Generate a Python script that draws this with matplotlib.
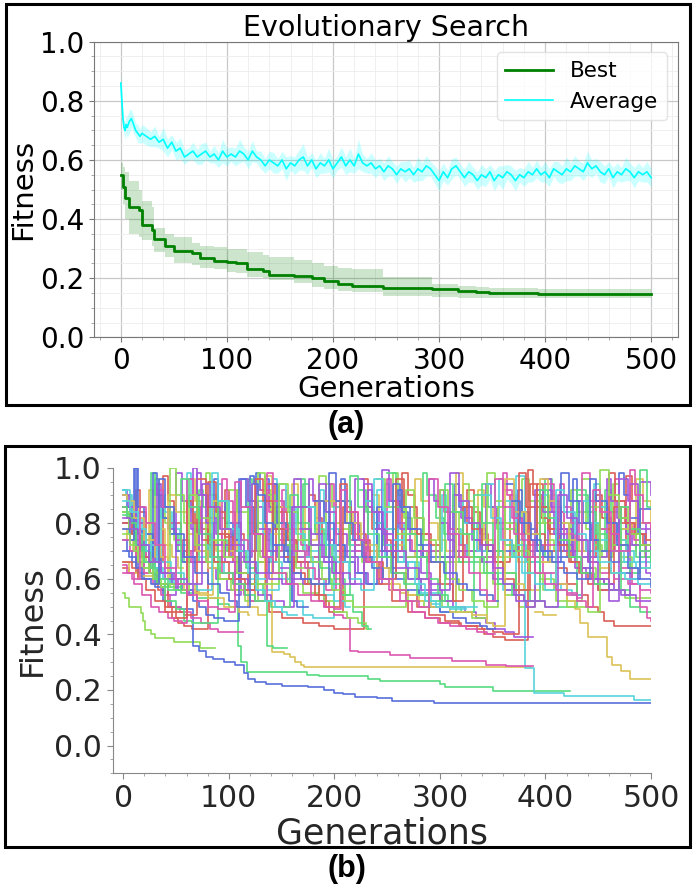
import colorsys
import numpy as np
import matplotlib
matplotlib.use("Agg")
import matplotlib.pyplot as plt
from matplotlib.patches import Rectangle
from matplotlib.ticker import MultipleLocator

X = None  # lineage break

# ---------------- panel (a) data ----------------
best_gens = [0, 2, 4, 8, 17, 20, 29, 31, 42, 50, 67, 75, 88, 100, 109, 119, 134, 140,
             163, 180, 192, 205, 218, 247, 293, 318, 335, 347, 393, 500]
best_vals = [0.549, 0.51, 0.47, 0.442, 0.43, 0.38, 0.363, 0.331, 0.31, 0.293, 0.285, 0.267,
             0.258, 0.255, 0.25, 0.23, 0.225, 0.21, 0.208, 0.20, 0.19, 0.18, 0.175, 0.168,
             0.163, 0.157, 0.153, 0.150, 0.148, 0.148]
best_hi = [0.59, 0.575, 0.56, 0.53, 0.50, 0.46, 0.44, 0.37, 0.35, 0.34, 0.32, 0.31, 0.305,
           0.30, 0.298, 0.29, 0.28, 0.27, 0.26, 0.25, 0.24, 0.235, 0.23, 0.205, 0.18, 0.175,
           0.17, 0.168, 0.162, 0.16]
best_lo = [0.50, 0.45, 0.40, 0.35, 0.34, 0.33, 0.31, 0.29, 0.27, 0.25, 0.245, 0.235, 0.23,
           0.222, 0.218, 0.205, 0.20, 0.194, 0.185, 0.17, 0.162, 0.158, 0.152, 0.14, 0.135,
           0.133, 0.132, 0.132, 0.132, 0.132]

avg_head_gens = [0, 1, 2, 3, 4, 5, 6, 8, 10, 12, 14, 16, 18, 20]
avg_head_vals = [0.86, 0.80, 0.74, 0.71, 0.70, 0.72, 0.71, 0.73, 0.74, 0.72, 0.70, 0.69, 0.68, 0.69]
avg_head_spread = [0.035, 0.04, 0.03, 0.025, 0.03, 0.03, 0.035, 0.04, 0.03, 0.03, 0.025, 0.03, 0.025, 0.03]
avg_tail_vals = [
    0.68, 0.67, 0.68, 0.66, 0.67, 0.64, 0.66, 0.63, 0.64, 0.61,
    0.62, 0.63, 0.61, 0.62, 0.63, 0.61, 0.62, 0.60, 0.63, 0.61,
    0.62, 0.61, 0.63, 0.62, 0.60, 0.63, 0.61, 0.60, 0.58, 0.60,
    0.59, 0.58, 0.60, 0.57, 0.59, 0.58, 0.60, 0.61, 0.58, 0.60,
    0.57, 0.59, 0.58, 0.60, 0.57, 0.59, 0.61, 0.58, 0.60, 0.58,
    0.62, 0.59, 0.58, 0.59, 0.57, 0.58, 0.56, 0.58, 0.57, 0.55,
    0.57, 0.56, 0.57, 0.55, 0.57, 0.56, 0.58, 0.57, 0.55, 0.53,
    0.56, 0.54, 0.57, 0.58, 0.56, 0.54, 0.56, 0.55, 0.53, 0.55,
    0.54, 0.56, 0.53, 0.55, 0.54, 0.56, 0.55, 0.53, 0.55, 0.54,
    0.56, 0.55, 0.57, 0.55, 0.56, 0.54, 0.57, 0.56, 0.55, 0.57,
    0.56, 0.58, 0.57, 0.56, 0.59, 0.57, 0.58, 0.56, 0.55, 0.57,
    0.54, 0.56, 0.55, 0.57, 0.56, 0.54, 0.56, 0.55, 0.56, 0.54]
avg_tail_spread = [
    0.03, 0.025, 0.035, 0.02, 0.04, 0.03, 0.025, 0.03, 0.035, 0.025,
    0.02, 0.03, 0.025, 0.035, 0.03, 0.02, 0.03, 0.025, 0.04, 0.03,
    0.025, 0.03, 0.04, 0.025, 0.03, 0.035, 0.02, 0.03, 0.025, 0.03,
    0.035, 0.025, 0.03, 0.04, 0.025, 0.03, 0.035, 0.045, 0.03, 0.025,
    0.03, 0.035, 0.025, 0.04, 0.03, 0.025, 0.035, 0.03, 0.04, 0.025,
    0.05, 0.03, 0.025, 0.035, 0.03, 0.025, 0.03, 0.035, 0.025, 0.03,
    0.025, 0.035, 0.03, 0.025, 0.04, 0.03, 0.035, 0.025, 0.03, 0.035,
    0.03, 0.025, 0.035, 0.03, 0.025, 0.03, 0.035, 0.025, 0.03, 0.035,
    0.03, 0.025, 0.035, 0.03, 0.04, 0.025, 0.03, 0.035, 0.025, 0.03,
    0.035, 0.025, 0.03, 0.025, 0.035, 0.03, 0.025, 0.035, 0.03, 0.04,
    0.03, 0.035, 0.025, 0.03, 0.04, 0.03, 0.025, 0.035, 0.03, 0.025,
    0.035, 0.03, 0.025, 0.04, 0.03, 0.035, 0.03, 0.025, 0.035, 0.03]

# ---------------- panel (b) data: population slots (generation, fitness) ----------------
slot_red_1 = [(0,0.86),(6,0.80),(12,0.74),(18,0.68),(25,0.62),(33,0.56),(40,0.50),(46,0.46),(52,0.44),(58,0.43),(65,0.42),(80,0.95),(88,0.84),(96,0.75),(104,0.66),(112,0.58),(125,0.52),(138,0.48),(150,0.46),(170,0.44),(185,0.43),(200,0.42),(220,0.42),(228,0.86),(236,0.78),(245,0.70),(255,0.62),(268,0.54),(278,0.50),(290,0.47),(305,0.45),(318,0.43),(335,0.42),(342,0.40),(350,0.39),(362,0.38),(383,0.99),(388,0.90),(396,0.82),(404,0.76),(414,0.70),(424,0.66),(434,0.62),(444,0.60),(455,0.58),(465,0.86),(472,0.80),(482,0.76),(492,0.72),(500,0.70)]
slot_red_2 = [(0,0.80),(8,0.76),(16,0.70),(24,0.64),(32,0.58),(42,0.50),(50,0.48),(58,0.47),(70,0.96),(78,0.86),(90,0.76),(100,0.68),(110,0.62),(118,0.58),(135,0.94),(144,0.84),(155,0.74),(165,0.66),(175,0.58),(185,0.52),(195,0.48),(208,0.86),(216,0.76),(230,0.66),(242,0.58),(255,0.52),(270,0.48),(286,0.46),(300,0.44),(320,0.43),(340,0.42),(350,0.41),(360,0.40),(375,0.98),(382,0.86),(392,0.76),(400,0.70),(410,0.64),(420,0.58),(430,0.54),(440,0.50),(450,0.48),(455,0.45),(465,0.43),(500,0.43)]
slot_red_3 = [(0,0.66),(8,0.64),(14,0.60),(22,0.56),(30,0.52),(40,0.48),(50,0.46),(60,0.88),(66,0.80),(75,0.74),(86,0.66),(100,0.60),(115,0.56),(125,0.96),(132,0.88),(142,0.78),(152,0.68),(162,0.62),(172,0.58),(182,0.54),(192,0.50),(205,0.94),(212,0.84),(222,0.74),(234,0.66),(246,0.60),(258,0.96),(266,0.86),(278,0.76),(290,0.66),(300,0.58),(312,0.52),(322,0.86),(330,0.78),(340,0.72),(350,0.66),(360,0.60),(370,0.56),(385,0.94),(392,0.86),(402,0.78),(412,0.72),(422,0.66),(432,0.62),(440,0.58),(450,0.56),(460,0.98),(466,0.88),(475,0.80),(485,0.76),(495,0.74),(500,0.74)]
slot_red_4 = [(0,0.64),(5,0.62),(12,0.92),(16,0.84),(22,0.76),(28,0.70),(34,0.66),(38,0.97),(42,0.88),(48,0.80),(55,0.74),(62,0.70),(68,0.84),(74,0.78),(80,0.72),(90,0.68),(96,0.92),(100,0.84),(106,0.76),(114,0.70),(120,0.66),(145,0.86),(150,0.80),(156,0.74),(164,0.70),(176,0.90),(182,0.82),(188,0.76),(196,0.72),(204,X),(226,0.96),(232,0.88),(238,0.80),(246,0.74),(254,0.70),(264,0.98),(270,0.90),(276,0.82),(284,0.76),(292,0.72),(300,0.68),(326,0.92),(332,0.84),(338,0.76),(346,0.70),(352,0.66),(366,0.90),(372,0.82),(378,0.76),(392,0.94),(398,0.86),(404,0.78),(412,0.72),(420,0.68),(448,0.90),(454,0.82),(462,0.76),(470,0.72),(476,0.97),(482,0.88),(490,0.80),(500,0.76)]

slot_gold_1 = [(0,0.90),(7,0.86),(15,0.80),(25,0.72),(35,0.64),(45,0.60),(58,0.56),(72,0.54),(85,0.88),(92,0.78),(100,0.70),(112,0.62),(125,0.52),(134,0.97),(141,0.335),(152,0.33),(158,0.32),(163,0.30),(168,0.29),(171,0.282),(385,0.282),(386,X),(390,0.48),(398,0.47),(410,0.47)]
slot_gold_2 = [(0,0.66),(5,0.62),(14,0.61),(30,0.60),(42,0.90),(50,0.84),(60,0.76),(70,0.70),(80,0.64),(92,0.60),(105,0.56),(118,0.50),(128,0.47),(135,0.47),(136,X),(150,0.86),(160,0.80),(172,0.74),(184,0.88),(210,0.84),(218,0.76),(228,0.70),(240,0.64),(252,0.58),(262,0.55),(270,0.54),(290,0.54),(300,0.52),(315,0.98),(322,0.88),(332,0.80),(342,0.74),(352,0.68),(362,0.62),(372,0.58),(380,0.56),(395,0.96),(402,0.88),(412,0.80),(422,0.74),(432,0.70),(442,0.66),(452,0.64),(462,0.62),(472,0.78),(482,0.80),(500,0.79)]
slot_gold_3 = [(0,0.90),(4,0.88),(10,0.82),(20,0.74),(30,0.68),(42,0.62),(55,0.58),(68,0.55),(80,0.53),(95,0.50),(110,0.48),(118,0.47),(119,X),(200,0.88),(212,0.80),(225,0.72),(240,0.64),(255,0.56),(268,0.54),(280,0.52),(292,0.50),(310,0.48),(330,0.47),(345,0.44),(350,0.43),(362,0.96),(370,0.84),(382,0.76),(395,0.66),(410,0.58),(420,0.52),(428,0.49),(433,0.44),(440,0.39),(458,0.32),(463,0.29),(472,0.27),(480,0.24),(500,0.24)]
slot_gold_4 = [(0,0.78),(4,0.74),(9,0.70),(14,0.66),(20,0.62),(24,0.92),(28,0.86),(34,0.78),(40,0.72),(46,0.68),(52,0.64),(57,X),(64,0.96),(68,0.88),(74,0.80),(82,0.74),(88,0.70),(108,0.92),(112,0.86),(118,0.80),(126,0.76),(160,0.94),(166,0.86),(172,0.78),(178,0.72),(185,X),(236,0.90),(242,0.84),(250,0.78),(258,0.72),(266,0.68),(276,0.96),(282,0.88),(290,0.80),(298,0.74),(306,0.70),(336,0.92),(342,0.86),(350,0.80),(358,0.74),(366,0.70),(374,0.66),(404,0.90),(410,0.84),(418,0.78),(426,0.74),(436,0.70),(446,0.92),(452,0.86),(460,0.80),(468,0.74),(476,0.70),(486,0.96),(492,0.88),(500,0.80)]

slot_lime_1 = [(0,0.55),(2,0.53),(5,0.50),(17,0.477),(19,0.45),(21,0.417),(26,0.40),(30,0.388),(48,0.371),(73,0.352),(87,X),(100,0.92),(108,0.84),(118,0.76),(130,0.68),(142,0.62),(155,0.58),(170,0.55),(185,0.97),(192,0.88),(202,0.80),(214,0.72),(226,0.66),(240,0.60),(255,0.56),(270,0.52),(285,0.50),(300,0.92),(308,0.84),(318,0.76),(328,0.68),(338,0.62),(350,0.58),(362,0.54),(375,0.50),(390,0.88),(398,0.80),(410,0.74),(422,0.68),(435,0.64),(448,0.60),(460,0.56),(475,0.53),(500,0.53)]
slot_lime_2 = [(0,0.84),(5,0.78),(10,0.70),(18,0.64),(28,0.60),(36,0.57),(44,1.00),(50,0.90),(58,0.80),(68,0.72),(78,0.66),(90,0.60),(102,0.56),(115,0.52),(128,0.98),(134,0.90),(144,0.80),(154,0.72),(164,0.64),(176,0.58),(190,0.52),(200,0.48),(212,0.46),(222,0.44),(230,0.42),(232,X),(240,0.96),(248,0.86),(258,0.76),(268,0.68),(278,0.60),(290,0.54),(302,0.50),(315,0.48),(330,0.46),(345,0.98),(352,0.88),(362,0.80),(372,0.72),(382,0.66),(395,0.60),(408,0.56),(420,0.52),(435,0.96),(442,0.86),(452,0.78),(462,0.72),(472,0.68),(482,0.64),(500,0.64)]
slot_lime_3 = [(0,0.76),(6,0.72),(14,0.66),(24,0.62),(34,0.58),(48,0.56),(62,0.90),(70,0.82),(82,0.74),(95,0.68),(108,0.62),(120,0.58),(148,0.94),(156,0.84),(166,0.74),(178,0.66),(188,0.60),(198,0.56),(210,0.52),(218,0.50),(268,0.92),(275,0.82),(285,0.74),(296,0.66),(306,0.60),(318,0.56),(330,0.52),(342,0.50),(355,0.86),(362,0.78),(372,0.70),(384,0.62),(398,0.56),(410,0.52),(420,0.50),(440,0.48),(452,0.99),(460,0.90),(470,0.82),(480,0.76),(490,0.72),(500,0.72)]
slot_lime_4 = [(0,0.86),(4,0.82),(10,0.76),(16,0.70),(22,0.66),(30,0.96),(34,0.88),(40,0.80),(48,0.74),(56,0.70),(62,0.66),(78,0.98),(82,0.90),(88,0.82),(96,0.76),(104,0.70),(110,0.66),(134,0.92),(140,0.84),(146,0.78),(154,0.72),(160,0.68),(192,0.94),(198,0.86),(206,0.78),(214,0.72),(220,0.68),(256,0.98),(260,0.90),(266,0.82),(274,0.76),(282,0.70),(288,0.66),(322,0.94),(328,0.86),(336,0.78),(344,0.72),(350,0.68),(378,0.96),(384,0.88),(392,0.80),(400,0.74),(408,0.70),(424,0.92),(430,0.84),(438,0.78),(446,0.72),(454,0.68),(464,0.94),(470,0.86),(478,0.78),(486,0.72),(494,0.68),(500,0.66)]

slot_green_1 = [(0,0.84),(5,0.80),(12,0.74),(20,0.66),(28,0.60),(40,0.57),(55,0.55),(70,0.53),(90,0.51),(100,0.50),(109,0.36),(112,0.30),(117,0.264),(174,0.255),(185,0.25),(232,0.24),(243,0.232),(300,0.22),(305,0.21),(350,0.195),(422,0.195),(423,X),(432,0.90),(440,0.80),(450,0.70),(460,0.62),(470,0.56),(480,0.50),(490,0.48),(500,0.48)]
slot_green_2 = [(0,0.86),(4,0.82),(10,0.76),(18,0.70),(25,0.64),(32,0.58),(40,0.52),(50,0.49),(58,0.45),(65,0.44),(80,0.44),(90,0.88),(98,0.78),(106,0.70),(116,0.64),(126,0.58),(132,0.54),(136,0.36),(142,0.35),(150,0.35),(155,X),(165,0.96),(172,0.86),(182,0.76),(192,0.68),(200,0.60),(210,0.54),(218,0.48),(226,0.43),(232,0.42),(235,X),(250,0.98),(258,0.86),(268,0.76),(278,0.68),(288,0.60),(298,0.54),(308,0.50),(320,0.48),(332,0.90),(340,0.80),(350,0.70),(360,0.62),(372,0.56),(385,0.52),(400,0.50),(420,0.50),(430,0.92),(438,0.84),(448,0.76),(458,0.70),(470,0.66),(480,0.62),(490,0.99),(496,0.86),(500,0.86)]
slot_green_3 = [(0,0.83),(6,0.80),(12,0.72),(20,0.66),(30,0.60),(42,0.56),(55,0.96),(62,0.86),(72,0.76),(82,0.68),(92,0.62),(104,0.58),(115,0.54),(125,0.52),(140,0.50),(158,0.90),(166,0.80),(176,0.72),(186,0.64),(196,0.58),(206,0.54),(215,0.97),(222,0.86),(232,0.76),(242,0.68),(254,0.62),(266,0.58),(278,0.54),(290,0.52),(305,0.94),(312,0.84),(322,0.76),(332,0.68),(342,0.62),(355,0.58),(368,0.54),(380,0.52),(395,0.92),(402,0.82),(412,0.74),(422,0.68),(434,0.62),(446,0.58),(460,0.56),(472,0.86),(480,0.78),(490,0.70),(500,0.66)]
slot_green_4 = [(0,0.80),(5,0.76),(10,0.72),(15,0.68),(20,0.64),(26,0.98),(30,0.90),(36,0.82),(44,0.76),(52,0.70),(58,0.66),(72,0.92),(76,0.86),(82,0.80),(90,0.74),(98,0.70),(118,0.96),(122,0.88),(128,0.80),(136,0.74),(142,0.70),(170,0.94),(176,0.86),(182,0.78),(190,0.72),(198,0.68),(212,X),(224,0.92),(230,0.84),(238,0.78),(246,0.72),(254,0.68),(284,0.98),(288,0.90),(296,0.82),(304,0.76),(312,0.70),(318,0.66),(340,0.94),(346,0.86),(354,0.78),(362,0.72),(370,0.68),(400,0.96),(406,0.88),(414,0.80),(422,0.74),(430,0.70),(456,0.92),(462,0.84),(470,0.78),(478,0.72),(486,0.68),(500,0.64)]

slot_cyan_1 = [(0,0.92),(6,0.88),(10,0.82),(18,0.74),(26,0.66),(35,0.60),(48,0.58),(60,0.98),(64,0.84),(70,0.72),(80,0.66),(95,0.62),(110,0.60),(125,0.88),(132,0.76),(140,0.66),(150,0.60),(160,0.52),(170,0.47),(180,0.46),(200,0.86),(206,0.80),(215,0.72),(230,0.66),(240,0.92),(248,0.78),(260,0.66),(280,0.55),(300,0.48),(315,0.90),(322,0.80),(335,0.70),(345,0.62),(360,0.56),(372,0.97),(381,0.28),(389,0.19),(418,0.18),(484,0.165),(500,0.165)]
slot_cyan_2 = [(0,0.92),(3,0.90),(8,0.84),(15,0.76),(22,0.70),(30,0.64),(38,0.60),(44,0.58),(60,0.56),(65,X),(120,0.66),(128,0.60),(136,0.56),(148,0.94),(154,0.86),(164,0.76),(172,0.68),(180,0.60),(190,0.54),(200,0.52),(210,0.50),(215,X),(230,0.88),(238,0.80),(248,0.72),(258,0.66),(270,0.60),(282,0.54),(292,0.51),(300,0.50),(330,0.50),(335,X),(345,0.94),(352,0.86),(362,0.78),(372,0.72),(382,0.66),(395,0.62),(405,0.58),(415,0.56),(425,0.54),(435,0.88),(442,0.80),(452,0.74),(462,0.70),(474,0.66),(486,0.64),(500,0.64)]
slot_cyan_3 = [(0,0.88),(6,0.84),(14,0.78),(22,0.72),(32,0.66),(45,0.62),(58,0.58),(70,0.56),(84,0.98),(90,0.88),(100,0.78),(110,0.70),(118,0.62),(126,0.56),(134,0.52),(144,0.50),(150,0.48),(155,0.47),(162,0.47),(165,X),(175,0.86),(182,0.80),(192,0.72),(202,0.66),(214,0.60),(225,0.56),(238,0.96),(246,0.84),(256,0.74),(266,0.66),(276,0.58),(286,0.52),(296,0.50),(310,0.49),(320,0.49),(325,X),(340,0.90),(348,0.82),(358,0.74),(368,0.68),(378,0.62),(390,0.58),(400,0.56),(410,0.92),(418,0.84),(428,0.76),(438,0.70),(450,0.66),(462,0.62),(475,0.60),(488,0.58),(500,0.58)]
slot_cyan_4 = [(0,0.84),(6,0.80),(12,0.76),(18,0.72),(24,0.68),(30,0.66),(36,0.90),(40,0.84),(46,0.78),(54,0.72),(60,0.68),(90,0.94),(94,0.88),(100,0.80),(108,0.74),(114,0.70),(142,0.96),(146,0.88),(152,0.80),(160,0.74),(166,0.70),(186,0.92),(190,0.84),(196,0.78),(204,0.72),(210,0.68),(248,0.94),(252,0.86),(258,0.80),(266,0.74),(272,0.70),(302,0.90),(306,0.84),(312,0.78),(320,0.72),(326,0.68),(356,0.96),(360,0.88),(366,0.80),(374,0.74),(380,X),(396,0.90),(402,0.84),(410,0.78),(418,0.72),(426,0.68),(446,0.94),(452,0.86),(460,0.80),(468,0.74),(476,0.70),(484,0.66),(500,0.64)]

slot_blue_1 = [(0,0.90),(4,0.86),(8,0.80),(11,1.00),(13,0.78),(18,0.70),(24,0.62),(30,0.57),(38,0.52),(45,0.50),(55,0.49),(66,0.357),(72,0.34),(78,0.32),(85,0.31),(95,0.30),(106,0.29),(114,0.26),(118,0.24),(125,0.23),(135,0.22),(150,0.215),(175,0.21),(190,0.20),(200,0.19),(208,0.185),(220,0.175),(240,0.17),(255,0.16),(294,0.152),(500,0.152)]
slot_blue_2 = [(0,0.78),(6,0.74),(10,1.00),(14,0.86),(20,0.76),(28,0.68),(36,0.62),(46,0.58),(56,0.56),(66,0.52),(72,0.50),(78,0.47),(86,0.46),(95,0.45),(105,0.45),(110,0.96),(116,0.86),(124,0.76),(132,0.68),(138,0.62),(142,0.94),(146,0.80),(154,0.70),(160,0.52),(165,0.50),(170,0.50),(175,X),(182,0.88),(190,0.80),(200,0.72),(210,0.66),(220,0.62),(230,0.58),(240,0.86),(245,0.70),(250,0.64),(258,0.60),(268,0.56),(280,0.54),(290,0.50),(300,0.48),(312,0.46),(325,0.44),(338,0.43),(345,0.42),(350,0.42),(352,X),(362,0.94),(370,0.84),(380,0.76),(392,0.70),(402,0.66),(415,0.98),(422,0.88),(432,0.80),(442,0.74),(452,0.70),(462,0.66),(472,0.62),(482,0.60),(490,0.85),(500,0.85)]
slot_blue_3 = [(0,0.70),(5,0.68),(12,0.64),(18,0.60),(26,0.58),(34,0.96),(40,0.86),(48,0.76),(58,0.68),(68,0.62),(80,0.58),(92,0.55),(100,0.52),(108,0.50),(115,0.50),(120,0.97),(124,0.94),(128,0.90),(134,0.80),(142,0.72),(152,0.66),(160,0.62),(168,0.60),(178,0.58),(195,0.98),(202,0.88),(210,0.80),(218,0.74),(226,0.68),(236,0.64),(246,0.60),(256,0.94),(262,0.86),(272,0.78),(282,0.72),(292,0.66),(304,0.62),(316,0.58),(326,0.56),(338,0.54),(350,0.52),(355,X),(368,0.88),(376,0.80),(386,0.74),(396,0.70),(406,0.66),(418,0.62),(430,0.60),(442,0.96),(448,0.88),(458,0.80),(468,0.72),(478,0.64),(488,0.60),(500,0.57)]
slot_blue_4 = [(0,0.74),(4,0.70),(8,0.66),(14,0.62),(20,0.60),(28,0.98),(32,0.90),(38,0.82),(44,0.76),(50,0.70),(56,0.66),(86,0.96),(90,0.88),(96,0.80),(104,0.74),(110,0.70),(126,0.98),(130,0.92),(134,0.96),(138,0.86),(144,0.78),(150,0.72),(156,0.66),(206,0.96),(210,0.88),(216,0.80),(224,0.74),(230,0.70),(260,0.92),(264,0.84),(270,0.78),(278,0.72),(284,0.68),(314,0.94),(318,0.86),(324,0.80),(332,0.74),(338,0.70),(374,0.92),(378,0.84),(384,0.78),(392,0.72),(398,0.68),(426,0.96),(430,0.88),(436,0.80),(444,0.74),(450,0.70),(470,0.98),(474,0.90),(480,0.82),(488,0.76),(494,0.72),(500,0.70)]

slot_purple_1 = [(0,0.80),(8,0.76),(16,0.70),(24,0.64),(34,0.58),(42,0.54),(50,0.98),(56,0.88),(64,0.78),(72,0.70),(80,0.64),(88,0.60),(98,0.56),(106,0.54),(112,0.96),(118,0.88),(128,0.78),(138,0.70),(148,0.64),(158,0.60),(170,0.58),(185,0.94),(192,0.84),(202,0.76),(212,0.68),(222,0.62),(232,0.58),(245,0.99),(252,0.88),(262,0.78),(272,0.70),(282,0.62),(292,0.56),(302,0.52),(312,0.50),(324,0.48),(334,0.46),(344,0.44),(352,0.42),(362,0.41),(370,0.39),(385,0.39),(388,X),(398,0.96),(405,0.86),(415,0.78),(425,0.70),(435,0.64),(445,0.60),(455,0.58),(465,0.56),(475,0.54),(480,0.94),(488,0.80),(495,0.62),(500,0.61)]
slot_purple_2 = [(0,0.90),(5,0.86),(12,0.80),(20,0.72),(30,0.66),(40,0.60),(52,0.56),(62,0.54),(66,1.00),(70,0.90),(78,0.80),(86,0.72),(96,0.66),(106,0.60),(118,0.56),(128,0.54),(140,0.52),(152,0.50),(162,0.96),(168,0.86),(178,0.76),(188,0.68),(198,0.62),(208,0.58),(220,0.96),(228,0.86),(238,0.78),(248,0.70),(258,0.64),(270,0.60),(282,0.56),(292,0.54),(300,0.52),(312,0.90),(320,0.82),(330,0.74),(340,0.66),(350,0.60),(362,0.56),(372,0.52),(382,0.50),(390,0.92),(398,0.84),(408,0.76),(418,0.70),(428,0.64),(438,0.60),(450,0.56),(460,0.52),(470,0.96),(478,0.88),(488,0.78),(500,0.69)]
slot_purple_3 = [(0,0.82),(6,0.78),(14,0.72),(24,0.66),(36,0.62),(48,0.60),(60,0.58),(75,0.94),(82,0.86),(92,0.78),(102,0.72),(114,0.66),(126,0.62),(138,0.60),(150,0.58),(160,0.86),(168,0.78),(178,0.72),(190,0.66),(202,0.62),(215,0.58),(228,0.94),(236,0.84),(246,0.76),(256,0.70),(268,0.64),(280,0.60),(290,0.58),(300,0.56),(310,0.98),(318,0.88),(328,0.80),(338,0.72),(350,0.64),(360,0.58),(370,0.54),(380,0.52),(400,0.50),(412,0.90),(420,0.82),(430,0.74),(440,0.66),(450,0.60),(460,0.56),(472,0.54),(486,0.52),(500,0.52)]
slot_purple_4 = [(0,0.92),(4,0.88),(8,0.82),(14,0.76),(20,0.70),(26,0.66),(32,0.94),(36,0.86),(42,0.78),(50,0.72),(56,0.68),(70,0.98),(74,0.90),(80,0.82),(88,0.76),(94,0.72),(102,0.68),(122,0.94),(126,0.86),(132,0.78),(140,0.72),(146,0.68),(176,0.96),(180,0.88),(186,0.80),(194,0.74),(200,0.70),(232,0.92),(236,0.84),(242,0.78),(250,0.72),(256,0.68),(290,0.96),(294,0.88),(300,0.80),(308,0.74),(314,0.70),(344,0.94),(348,0.86),(354,0.80),(362,0.74),(368,0.70),(402,0.92),(406,0.84),(412,0.78),(420,0.72),(426,0.68),(458,0.96),(462,0.88),(468,0.82),(476,0.76),(482,0.72),(490,0.95),(500,0.90)]

slot_pink_1 = [(0,0.74),(6,0.70),(12,0.66),(20,0.62),(28,0.58),(36,0.54),(44,0.50),(54,0.48),(64,0.46),(74,0.44),(82,0.42),(90,0.41),(112,0.41),(113,X),(130,0.92),(138,0.84),(148,0.74),(158,0.66),(168,0.60),(178,0.54),(190,0.50),(200,0.47),(208,0.46),(215,0.34),(222,0.335),(253,0.325),(272,0.315),(311,0.305),(344,0.29),(363,0.285),(387,0.285),(388,X),(400,0.94),(408,0.84),(418,0.76),(428,0.70),(440,0.66),(452,0.62),(465,0.60),(478,0.58),(490,0.56),(500,0.55)]
slot_pink_2 = [(0,0.65),(4,0.62),(10,0.58),(18,0.54),(26,0.50),(34,0.48),(42,0.46),(48,0.45),(56,0.44),(60,0.96),(66,0.86),(74,0.76),(84,0.68),(94,0.62),(104,0.58),(114,0.54),(120,0.52),(136,0.98),(142,0.88),(152,0.78),(162,0.70),(172,0.64),(182,0.60),(192,0.56),(202,0.88),(210,0.80),(220,0.72),(230,0.66),(240,0.60),(252,0.56),(262,0.52),(274,0.48),(286,0.46),(298,0.44),(310,0.43),(325,0.42),(335,0.41),(345,0.40),(350,0.40),(352,X),(360,0.92),(368,0.82),(378,0.74),(388,0.68),(398,0.62),(410,0.58),(420,0.55),(430,0.53),(435,0.98),(442,0.88),(452,0.78),(462,0.70),(472,0.64),(482,0.58),(490,0.50),(496,0.46),(500,0.45)]
slot_pink_3 = [(0,0.62),(8,0.60),(16,0.86),(22,0.80),(30,0.72),(40,0.64),(50,0.58),(60,0.54),(70,0.52),(80,0.50),(90,0.49),(100,0.48),(106,0.95),(112,0.86),(122,0.76),(132,0.68),(142,0.62),(154,0.58),(166,0.54),(178,0.52),(190,0.50),(200,0.49),(206,0.92),(212,0.84),(222,0.74),(232,0.66),(244,0.60),(256,0.56),(268,0.52),(280,0.50),(290,0.96),(298,0.86),(308,0.76),(318,0.68),(328,0.62),(338,0.56),(345,0.52),(352,0.96),(360,0.86),(370,0.76),(380,0.68),(390,0.62),(400,0.58),(410,0.56),(420,0.54),(430,0.52),(438,0.50),(445,0.92),(452,0.84),(462,0.76),(470,0.70),(480,0.99),(485,0.90),(492,0.80),(500,0.78)]
slot_pink_4 = [(0,0.86),(4,0.82),(10,0.76),(16,0.72),(22,0.68),(28,0.64),(34,0.92),(38,0.86),(44,0.80),(50,0.74),(56,0.70),(64,0.66),(94,0.96),(98,0.88),(104,0.80),(112,0.74),(118,0.70),(150,0.92),(154,0.84),(160,0.78),(168,0.72),(174,0.68),(196,0.94),(200,0.86),(206,0.80),(214,0.74),(220,0.70),(250,0.96),(254,0.88),(260,0.80),(268,0.74),(274,0.70),(300,0.92),(304,0.84),(310,0.78),(318,0.72),(324,0.68),(360,0.98),(364,0.90),(370,0.82),(378,0.76),(384,0.72),(414,0.94),(418,0.86),(424,0.80),(432,0.74),(438,0.70),(466,0.96),(470,0.88),(476,0.80),(484,0.74),(490,0.70),(500,0.68)]

slots = [
    (slot_red_4, 0), (slot_gold_4, 1), (slot_lime_4, 2), (slot_green_4, 3),
    (slot_cyan_4, 4), (slot_blue_4, 5), (slot_purple_4, 6), (slot_pink_4, 7),
    (slot_red_1, 0), (slot_gold_1, 1), (slot_lime_1, 2), (slot_green_1, 3),
    (slot_cyan_1, 4), (slot_blue_1, 5), (slot_purple_1, 6), (slot_pink_1, 7),
    (slot_red_2, 0), (slot_gold_2, 1), (slot_lime_2, 2), (slot_green_2, 3),
    (slot_cyan_2, 4), (slot_blue_2, 5), (slot_purple_2, 6), (slot_pink_2, 7),
    (slot_red_3, 0), (slot_gold_3, 1), (slot_lime_3, 2), (slot_green_3, 3),
    (slot_cyan_3, 4), (slot_blue_3, 5), (slot_purple_3, 6), (slot_pink_3, 7),
]

# ---------------- figure ----------------
W, H = 697, 891
fig = plt.figure(figsize=(W / 100, H / 100), dpi=100)
plt.rcParams['font.family'] = ['DejaVu Sans']

def fx(px):
    return px / W

def fy(py):
    return 1 - py / H

# Panel (a)
ax1 = fig.add_axes([fx(94.3), fy(337.3), fx(677.7) - fx(94.3), fy(41.7) - fy(337.3)])
avg_gens = avg_head_gens + list(range(24, 24 + 4 * len(avg_tail_vals), 4))
avg_vals = np.array(avg_head_vals + avg_tail_vals)
avg_spread = np.array((avg_head_spread + avg_tail_spread)[:len(avg_vals)])

ax1.step(best_gens, best_vals, where='post', color='green', lw=2.0, label='Best', zorder=3)
ax1.fill_between(best_gens, best_lo, best_hi, step='post', color='green', alpha=0.2, lw=0)
ax1.plot(avg_gens, avg_vals, color='cyan', lw=1.2, label='Average', zorder=3)
ax1.fill_between(avg_gens, avg_vals - avg_spread, avg_vals + avg_spread,
                 color='cyan', alpha=0.2, lw=0)

ax1.set_xlim(-25, 525)
ax1.set_ylim(0, 1.0)
ax1.xaxis.set_major_locator(MultipleLocator(100))
ax1.xaxis.set_minor_locator(MultipleLocator(20))
ax1.yaxis.set_major_locator(MultipleLocator(0.2))
ax1.yaxis.set_minor_locator(MultipleLocator(0.05))
ax1.grid(which='major', color='#c8c8c8', lw=0.9)
ax1.grid(which='minor', color='#ececec', lw=0.6)
ax1.set_axisbelow(True)
for s in ax1.spines.values():
    s.set_color('#777777')
ax1.tick_params(axis='both', which='major', labelsize=20, colors='#777777', labelcolor='black')
ax1.tick_params(axis='both', which='minor', colors='#999999', length=2)
ax1.set_title('Evolutionary Search', fontsize=20.5, pad=4)
ax1.set_xlabel('Generations', fontsize=21, labelpad=0)
ax1.set_ylabel('Fitness', fontsize=21, labelpad=2)
leg = ax1.legend(loc='upper right', fontsize=15.5, handlelength=2.2, framealpha=0.8,
                 edgecolor='#dddddd')

# Panel (b)
ax2 = fig.add_axes([fx(112.7), fy(773.3), fx(651) - fx(112.7), fy(467.7) - fy(773.3)])
hues = np.linspace(0, 1, 9)[:-1] + 0.01
palette = [colorsys.hls_to_rgb(h % 1, 0.6, 0.65) for h in hues]
for pts, ci in slots:
    g = [p[0] for p in pts]
    v = [np.nan if p[1] is None else p[1] for p in pts]
    ax2.step(g, v, where='post', color=palette[ci], lw=1.2)

ax2.set_xlim(-10, 500)
ax2.set_ylim(-0.1, 1.0)
ax2.xaxis.set_major_locator(MultipleLocator(100))
ax2.xaxis.set_minor_locator(MultipleLocator(20))
ax2.yaxis.set_major_locator(MultipleLocator(0.2))
ax2.yaxis.set_minor_locator(MultipleLocator(0.05))
ax2.spines['top'].set_visible(False)
ax2.spines['right'].set_visible(False)
for k in ('left', 'bottom'):
    ax2.spines[k].set_color('#888888')
ax2.tick_params(axis='both', which='major', labelsize=21.5, colors='#888888',
                labelcolor='#262626', length=4, pad=4)
ax2.tick_params(axis='both', which='minor', colors='#999999', length=2)
ax2.set_xlabel('Generations', fontsize=25, color='#262626', labelpad=2)
ax2.set_ylabel('Fitness', fontsize=23, color='#262626', labelpad=4)

# Sub-figure frames and captions
fig.add_artist(Rectangle((fx(6), fy(405)), fx(690) - fx(6), fy(4) - fy(405),
                         transform=fig.transFigure, fill=False, ec='black', lw=2.2))
fig.add_artist(Rectangle((fx(5), fy(847)), fx(690) - fx(5), fy(446) - fy(847),
                         transform=fig.transFigure, fill=False, ec='black', lw=2.2))
fig.text(fx(346), fy(425), '(a)', ha='center', va='center', fontsize=22,
         fontweight='bold', family=['Liberation Sans', 'DejaVu Sans'])
fig.text(fx(347), fy(869), '(b)', ha='center', va='center', fontsize=22,
         fontweight='bold', family=['Liberation Sans', 'DejaVu Sans'])

fig.savefig('out.png', dpi=100, facecolor='white')
